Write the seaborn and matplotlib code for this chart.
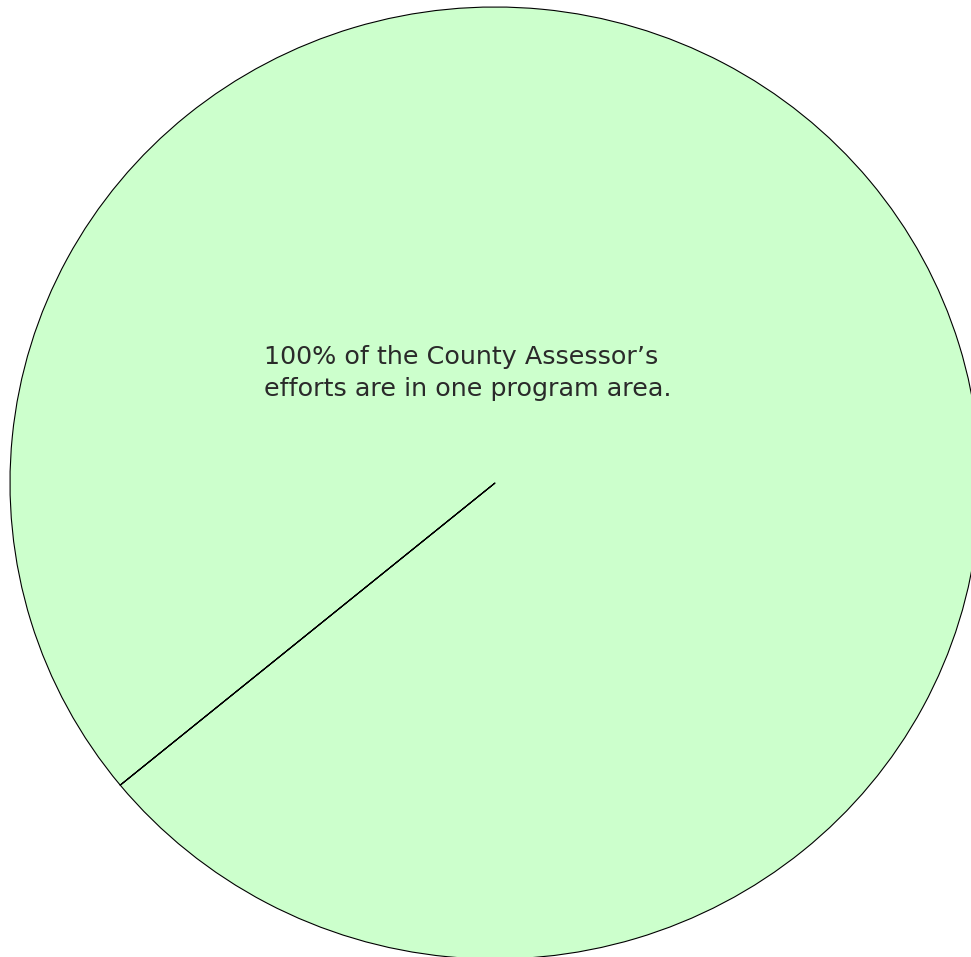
import numpy as np
import matplotlib
matplotlib.use("Agg")
import matplotlib.pyplot as plt
import seaborn as sns

# Data
categories = ["County Assessor program area"]
shares = [100]
colors = ["#ccffcc"]
caption = "100% of the County Assessor\u2019s\nefforts are in one program area."
start_angle = 219.4

sns.set_style("white")
plt.rcParams["font.family"] = ["DejaVu Sans"]

W, H = 971, 957
fig = plt.figure(figsize=(W / 100, H / 100), dpi=100)
# axes box covering the (slightly elliptical) pie
ax = fig.add_axes([10 / W, (957 - 959) / H, 970 / W, 952 / H])

wedges, _ = ax.pie(
    shares,
    colors=colors,
    startangle=start_angle,
    counterclock=True,
    wedgeprops=dict(edgecolor="black", linewidth=0.8),
    radius=1.0,
    center=(0, 0),
)
# wedge boundary line (start of the single slice)
theta = np.deg2rad(start_angle)
ax.plot([0, np.cos(theta)], [0, np.sin(theta)], color="black", lw=0.8)

ax.set_aspect("auto")
ax.set_xlim(-1, 1)
ax.set_ylim(-1, 1)
ax.axis("off")

ax.text(-0.476, 0.232, caption, ha="left", va="center", multialignment="left",
        fontsize=18.3, color="#2a2a2a", linespacing=1.42)

fig.savefig("out.png", dpi=100)
